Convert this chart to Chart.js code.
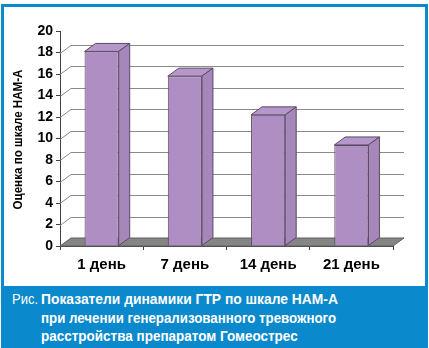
<!DOCTYPE html>
<html>
<head>
<meta charset="utf-8">
<script src="https://cdn.jsdelivr.net/npm/chart.js@4/dist/chart.umd.min.js"></script>
<style>
  html, body { margin: 0; padding: 0; background: #fff; }
  body { width: 429px; height: 348px; position: relative; overflow: hidden; }
  #frame { position: absolute; left: 1px; top: 4px; width: 427px; height: 344px;
           border: 3px solid #0a89cc; box-sizing: border-box; }
  #wrap { position: absolute; left: 0; top: 0; width: 429px; height: 286px; }
  #caption { position: absolute; left: 1px; top: 286px; width: 427px; height: 62px;
             background: #0a89cc; color: #fff; font-family: 'Liberation Sans', Arial, sans-serif; }
  .line { position: absolute; left: 40px; white-space: nowrap; font-weight: bold;
          font-size: 15px; transform-origin: 0 0; }
  .lead { position: absolute; left: 11px; top: 4px; font-size: 15px; white-space: nowrap;
          transform-origin: 0 0; }
</style>
</head>
<body>
<div id="frame"></div>
<div id="wrap"><canvas id="c" width="429" height="286"></canvas></div>
<div id="caption">
  <span class="lead" id="lead">Рис.</span>
  <span class="line" id="l1" style="top:4px">Показатели динамики ГТР по шкале НАМ-А</span>
  <span class="line" id="l2" style="top:23px">при лечении генерализованного тревожного</span>
  <span class="line" id="l3" style="top:41px">расстройства препаратом Гомеострес</span>
</div>
<script>
const categories = ['1 день', '7 день', '14 день', '21 день'];
const scores = [18.1, 15.8, 12.2, 9.4];
const yTickValues = [0, 2, 4, 6, 8, 10, 12, 14, 16, 18, 20];
const backGridValues = [2, 4, 6, 8, 10, 12, 14, 16, 18];
const yTitle = 'Оценка по шкале НАМ-А';

// depth of the pseudo-3D box (pixels right / up)
const DX = 11, DY = -8;

// fit caption lines to their widths (condensed look)
function fitLine(id, target) {
  const el = document.getElementById(id);
  const w = el.offsetWidth;
  el.style.transform = 'scaleX(' + (target / w) + ')';
}
fitLine('l1', 297); fitLine('l2', 295); fitLine('l3', 257); fitLine('lead', 26);

const wallPlugin = {
  id: 'wall3d',
  beforeDatasetsDraw(chart) {
    const { ctx, chartArea, scales } = chart;
    const y = scales.y;
    const y0 = y.getPixelForValue(0);
    ctx.save();
    // floor
    ctx.beginPath();
    ctx.moveTo(chartArea.left, y0);
    ctx.lineTo(chartArea.right, y0);
    ctx.lineTo(chartArea.right + DX, y0 + DY);
    ctx.lineTo(chartArea.left + DX, y0 + DY);
    ctx.closePath();
    ctx.fillStyle = '#858585';
    ctx.fill();
    ctx.strokeStyle = '#606060';
    ctx.lineWidth = 1;
    ctx.stroke();
    // back wall grid lines with side connectors
    ctx.strokeStyle = '#8a8a8a';
    backGridValues.forEach(v => {
      const py = Math.round(y.getPixelForValue(v)) + 0.5;
      ctx.beginPath();
      ctx.moveTo(chartArea.left, py);
      ctx.lineTo(chartArea.left + DX, py + DY);
      ctx.lineTo(chartArea.right + DX, py + DY);
      ctx.stroke();
    });
    ctx.restore();
  },
  afterDatasetsDraw(chart) {
    const { ctx } = chart;
    const meta = chart.getDatasetMeta(0);
    ctx.save();
    ctx.lineWidth = 1;
    ctx.strokeStyle = '#5a4a62';
    meta.data.forEach(bar => {
      const p = bar.getProps(['x', 'y', 'base', 'width'], true);
      const x0 = p.x - p.width / 2, x1 = p.x + p.width / 2;
      const yt = p.y, yb = p.base;
      // top face
      ctx.beginPath();
      ctx.moveTo(x0, yt);
      ctx.lineTo(x0 + DX, yt + DY);
      ctx.lineTo(x1 + DX, yt + DY);
      ctx.lineTo(x1, yt);
      ctx.closePath();
      ctx.fillStyle = '#b597c9';
      ctx.fill();
      ctx.stroke();
      // side face
      ctx.beginPath();
      ctx.moveTo(x1, yt);
      ctx.lineTo(x1 + DX, yt + DY);
      ctx.lineTo(x1 + DX, yb + DY);
      ctx.lineTo(x1, yb);
      ctx.closePath();
      ctx.fillStyle = '#a686bb';
      ctx.fill();
      ctx.stroke();
    });
    ctx.restore();
  },
  afterDraw(chart) {
    // condensed vertical axis title
    const { ctx, chartArea } = chart;
    ctx.save();
    ctx.font = 'bold 12px "Liberation Sans", Arial, sans-serif';
    const w = ctx.measureText(yTitle).width;
    ctx.translate(19, (chartArea.top + chartArea.bottom) / 2 + 1);
    ctx.rotate(-Math.PI / 2);
    ctx.scale(140 / w, 1);
    ctx.fillStyle = '#000';
    ctx.textAlign = 'center';
    ctx.textBaseline = 'middle';
    ctx.fillText(yTitle, 0, 0);
    ctx.restore();
  }
};

new Chart(document.getElementById('c'), {
  type: 'bar',
  data: {
    labels: categories,
    datasets: [{
      data: scores,
      backgroundColor: '#ae8ec3',
      borderColor: '#5a4a62',
      borderWidth: 1,
      categoryPercentage: 1,
      barPercentage: 0.41
    }]
  },
  options: {
    responsive: false,
    animation: false,
    devicePixelRatio: 1,
    layout: { padding: { left: 4, right: 36, top: 31, bottom: 0 } },
    plugins: { legend: { display: false }, tooltip: { enabled: false } },
    scales: {
      x: {
        grid: { drawOnChartArea: false, drawTicks: true, tickLength: 4, color: '#404040', offset: true },
        border: { display: true, color: '#404040' },
        ticks: { color: '#000', font: { family: 'Liberation Sans', size: 15, weight: 'bold' }, padding: 6 },
        afterFit(scale) { scale.height = 40; }
      },
      y: {
        min: 0, max: 20,
        afterBuildTicks(scale) { scale.ticks = yTickValues.map(v => ({ value: v })); },
        grid: { drawOnChartArea: false, drawTicks: true, tickLength: 4, color: '#404040' },
        border: { display: true, color: '#404040' },
        ticks: { color: '#000', font: { family: 'Liberation Sans', size: 14, weight: 'bold' }, padding: 3 },
        afterFit(scale) { scale.width = 56; }
      }
    }
  },
  plugins: [wallPlugin]
});
</script>
</body>
</html>
